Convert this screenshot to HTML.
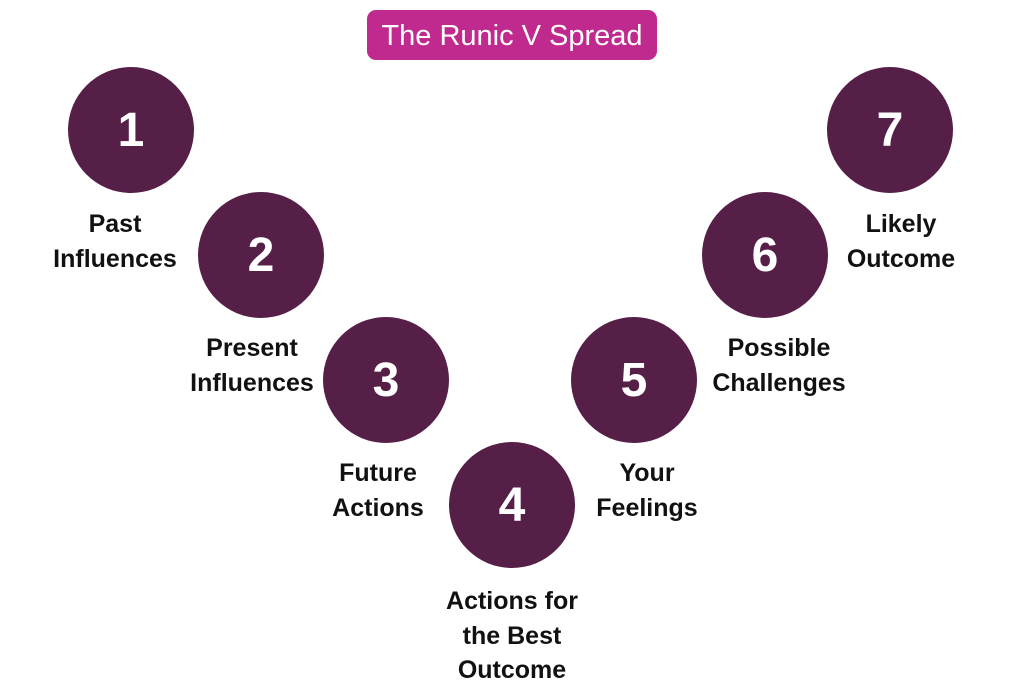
<!DOCTYPE html>
<html><head><style>
body{margin:0;width:1024px;height:682px;background:#fff;position:relative;overflow:hidden;font-family:"Liberation Sans",sans-serif}
.t{position:absolute;left:367px;top:10px;width:290px;height:50px;background:#c02a8e;border-radius:9px;color:#fff;font-size:29px;line-height:52px;text-align:center}
.c{position:absolute;width:126px;height:126px;border-radius:50%;background:#561f47;color:#fff;font-weight:bold;font-size:48px;line-height:128px;text-align:center}
.l{position:absolute;width:220px;text-align:center;font-weight:bold;font-size:25px;line-height:34.5px;color:#111}
</style></head><body>
<div class="t">The Runic V Spread</div>
<div class="c" style="left:68px;top:67px">1</div>
<div class="c" style="left:198px;top:192px">2</div>
<div class="c" style="left:323px;top:317px">3</div>
<div class="c" style="left:449px;top:442px">4</div>
<div class="c" style="left:571px;top:317px">5</div>
<div class="c" style="left:702px;top:192px">6</div>
<div class="c" style="left:827px;top:67px">7</div>
<div class="l" style="left:5px;top:207px">Past<br>Influences</div>
<div class="l" style="left:142px;top:331px">Present<br>Influences</div>
<div class="l" style="left:268px;top:456px">Future<br>Actions</div>
<div class="l" style="left:402px;top:584px">Actions for<br>the Best<br>Outcome</div>
<div class="l" style="left:537px;top:456px">Your<br>Feelings</div>
<div class="l" style="left:669px;top:331px">Possible<br>Challenges</div>
<div class="l" style="left:791px;top:207px">Likely<br>Outcome</div>
</body></html>
